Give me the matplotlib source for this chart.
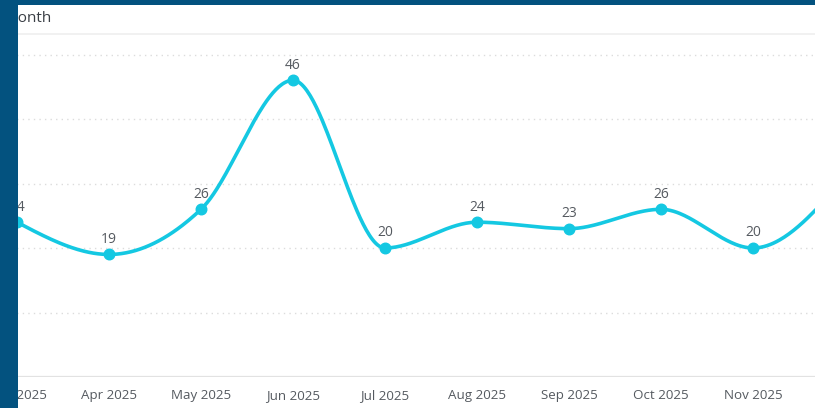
import numpy as np
import matplotlib
matplotlib.use("Agg")
import matplotlib.pyplot as plt
from matplotlib.patches import Rectangle
from matplotlib.lines import Line2D

plt.rcParams['font.family'] = ['Open Sans', 'DejaVu Sans']

# ---- data ----
months = ["Mar 2025", "Apr 2025", "May 2025", "Jun 2025", "Jul 2025",
          "Aug 2025", "Sep 2025", "Oct 2025", "Nov 2025", "Dec 2025"]
values = [24, 19, 26, 46, 20, 24, 23, 26, 20, 31]
title = "Month"

LINE = "#14c8e2"
TEXT = "#555a60"
BLUE = "#03527f"

W, H = 815, 408
fig = plt.figure(figsize=(W / 100, H / 100), dpi=100)
fig.patch.set_facecolor("white")

# axes placement in pixels
x_first, step = 17, 92          # pixel of first category, pixel spacing
ax_top, ax_bot = 54.5, 377
ax = fig.add_axes([0, (H - ax_bot) / H, 1, (ax_bot - ax_top) / H])
ax.set_facecolor("none")

xs = np.arange(len(values), dtype=float)
ys = np.array(values, dtype=float)

# d3 monotoneX
def slope3(i):
    h0 = xs[i] - xs[i - 1]; h1 = xs[i + 1] - xs[i]
    s0 = (ys[i] - ys[i - 1]) / h0; s1 = (ys[i + 1] - ys[i]) / h1
    p = (s0 * h1 + s1 * h0) / (h0 + h1)
    sg = lambda v: -1 if v < 0 else 1
    return (sg(s0) + sg(s1)) * min(abs(s0), abs(s1), 0.5 * abs(p))

n = len(xs)
t = np.zeros(n)
for i in range(1, n - 1):
    t[i] = slope3(i)
t[0] = (3 * (ys[1] - ys[0]) / (xs[1] - xs[0]) - t[1]) / 2
t[-1] = (3 * (ys[-1] - ys[-2]) / (xs[-1] - xs[-2]) - t[-2]) / 2

px, py = [], []
u = np.linspace(0, 1, 60)
for i in range(n - 1):
    dx = (xs[i + 1] - xs[i]) / 3
    P0 = (xs[i], ys[i]); P1 = (xs[i] + dx, ys[i] + dx * t[i])
    P2 = (xs[i + 1] - dx, ys[i + 1] - dx * t[i + 1]); P3 = (xs[i + 1], ys[i + 1])
    b0 = (1 - u) ** 3; b1 = 3 * (1 - u) ** 2 * u; b2 = 3 * (1 - u) * u ** 2; b3 = u ** 3
    px.extend(b0 * P0[0] + b1 * P1[0] + b2 * P2[0] + b3 * P3[0])
    py.extend(b0 * P0[1] + b1 * P1[1] + b2 * P2[1] + b3 * P3[1])

# grid
for g in [10, 20, 30, 40, 50]:
    ax.axhline(g, color="#dcdcdc", lw=1.0, ls=(0, (1, 3)), zorder=1, clip_on=False)
ax.axhline(0, color="#e2e2e2", lw=1.6, zorder=1)

ax.plot(px, py, color=LINE, lw=2.6, zorder=3, solid_capstyle="round")
ax.plot(xs, ys, "o", color=LINE, ms=7.6, zorder=4)

for x, y in zip(xs, ys):
    ax.annotate(f"{int(y)}", (x, y), xytext=(0, 5.5), textcoords="offset points",
                ha="center", va="bottom", fontsize=10, color=TEXT, zorder=5,
                annotation_clip=True)

ax.set_xticks(xs)
ax.set_xticklabels(months, fontsize=9.6, color=TEXT)
ax.tick_params(axis="x", length=0, pad=8.8)
ax.set_yticks([])
for s in ax.spines.values():
    s.set_visible(False)
# set limits after ticks (set_xticks can expand the view)
ax.set_xlim(-x_first / step, (W - x_first) / step)
ax.set_ylim(0, 50)

# header
fig.text(5.0 / W, 1 - 18.5 / H, title, fontsize=11, color="#3a3f45",
         ha="left", va="center", zorder=2)
fig.add_artist(Line2D([18 / W, 1], [1 - 33.5 / H] * 2, color="#efefef", lw=1.2, zorder=2))

# dark frame strips
fig.add_artist(Rectangle((0, 0), 17.5 / W, 1, transform=fig.transFigure,
                         facecolor=BLUE, edgecolor="none", zorder=20))
fig.add_artist(Rectangle((0, 1 - 4.5 / H), 1, 4.5 / H, transform=fig.transFigure,
                         facecolor=BLUE, edgecolor="none", zorder=20))

fig.savefig("out.png", dpi=100, facecolor="white")
